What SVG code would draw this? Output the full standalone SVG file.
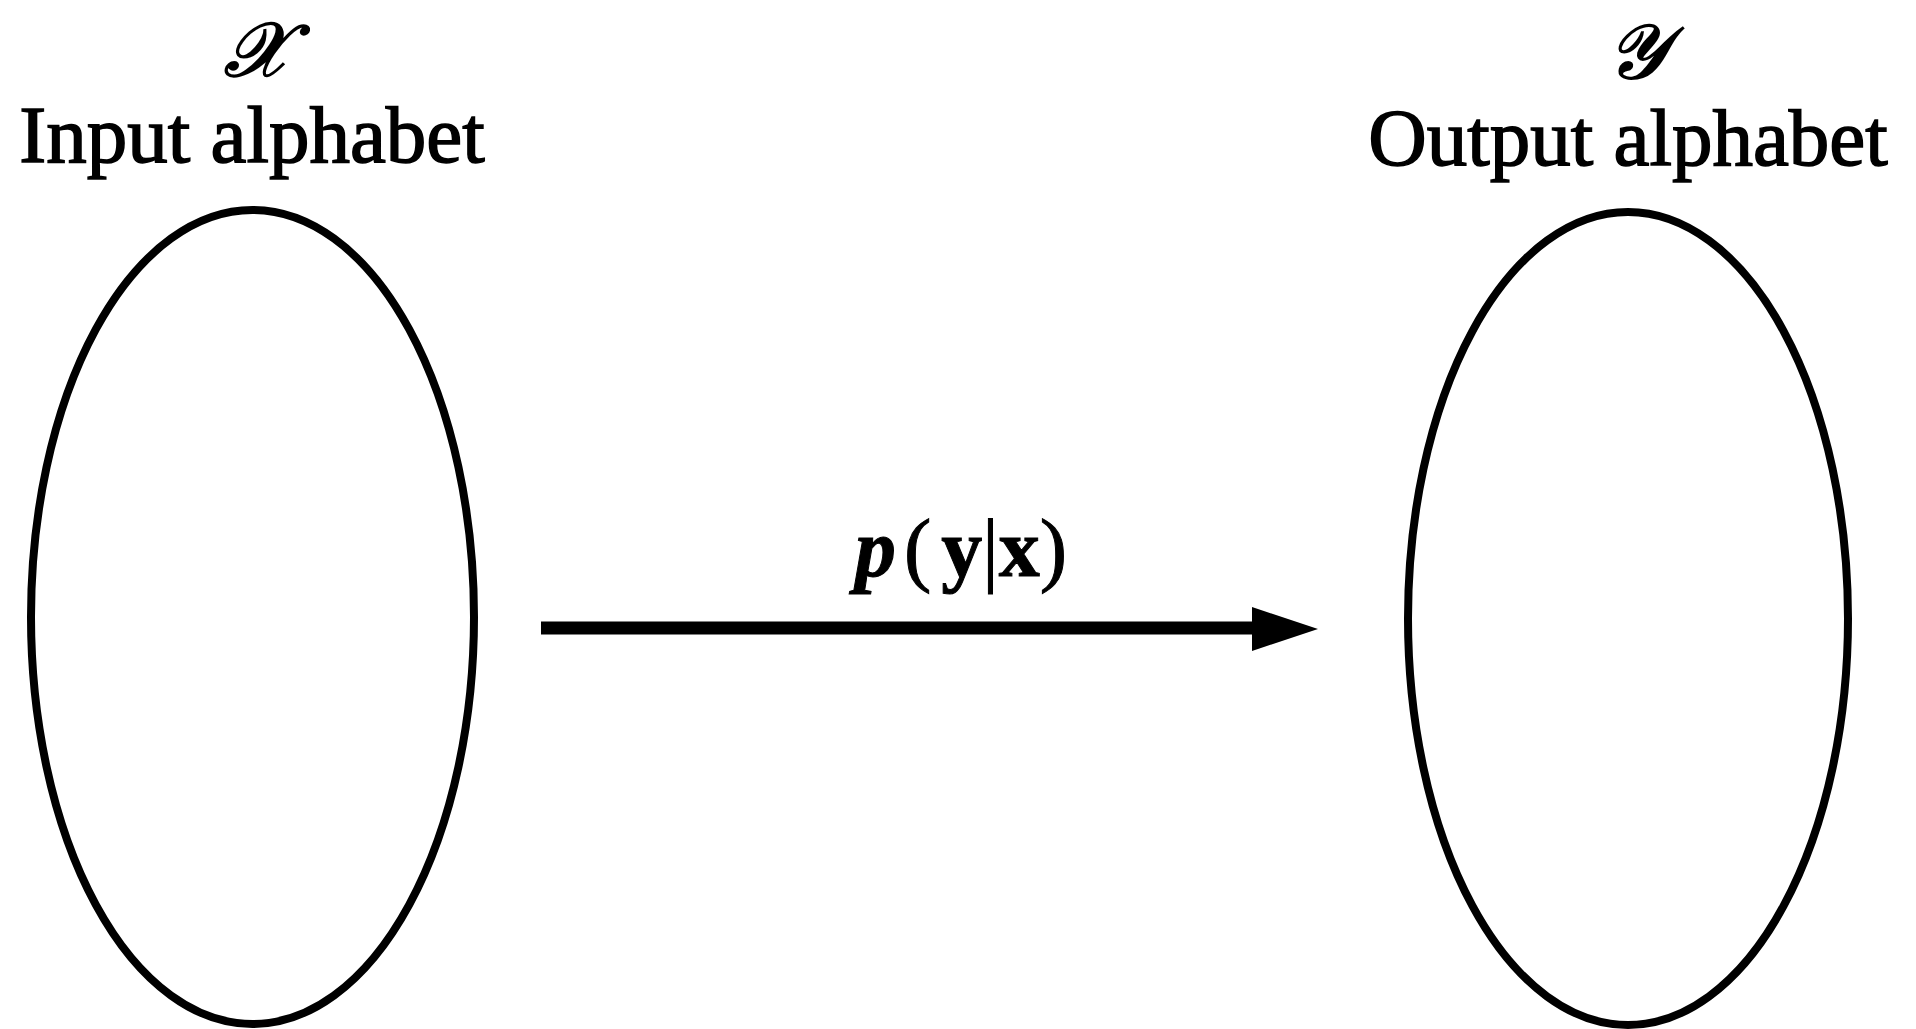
<svg xmlns="http://www.w3.org/2000/svg" width="1916" height="1029" viewBox="0 0 1916 1029">
<style>
.lbl{font-family:"Liberation Serif","DejaVu Serif",serif;font-size:81px;fill:#000;stroke:#000;stroke-width:1.5;text-anchor:middle}
.scr{font-family:"DejaVu Serif","DejaVu Sans","Noto Sans",serif;font-size:76px;font-style:italic;fill:#000;stroke:#000;stroke-width:2;text-anchor:middle}
.set{fill:none;stroke:#000;stroke-width:8}
.math{font-family:"Liberation Serif","DejaVu Serif",serif;font-size:82px;fill:#000;stroke:#000;stroke-width:1}
</style>
<rect width="1916" height="1029" fill="#fff"/>
<g id="input">
<text class="scr" x="256" y="76">𝒳</text>
<text class="lbl" x="252" y="162">Input alphabet</text>
<ellipse class="set" cx="252.5" cy="617" rx="221.5" ry="407"/>
</g>
<g id="output">
<text class="scr" x="1637" y="78">𝒴</text>
<text class="lbl" x="1628" y="165">Output alphabet</text>
<ellipse class="set" cx="1628" cy="618.5" rx="220" ry="406.5"/>
</g>
<g id="connectors">
<path d="M541,628 L1260,628" stroke="#000" stroke-width="13" fill="none"/>
<path d="M1252,607 L1318,629 L1252,651 Z" fill="#000"/>
<text class="math" x="855" y="576"><tspan font-style="italic" font-weight="bold">p</tspan><tspan dx="8">(</tspan><tspan dx="10" font-weight="bold">y</tspan><tspan>|</tspan><tspan font-weight="bold">x</tspan><tspan>)</tspan></text>
</g>
</svg>
